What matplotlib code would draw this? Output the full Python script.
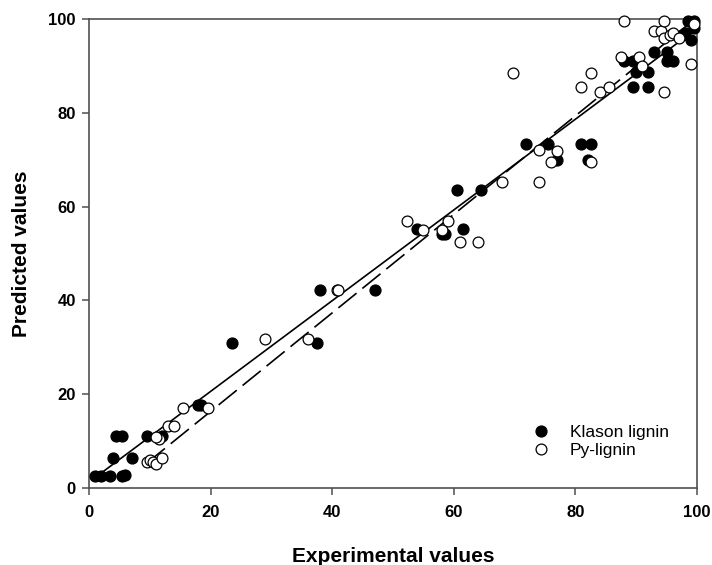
import matplotlib
matplotlib.use("Agg")
import matplotlib.pyplot as plt
import numpy as np

plt.rcParams['font.family'] = ['Liberation Sans', 'DejaVu Sans']

klason_x = [1, 2, 3.5, 5.5, 6, 4, 7, 4.5, 5.5, 9.5, 12, 18, 18.5, 23.5, 37.5, 38, 47,
            54, 58, 58.5, 61.5, 60.5, 64.5, 71.8, 75.5, 77, 81, 82.5, 82,
            88, 89.5, 89.5, 90, 92, 92, 93, 95, 95, 96, 97.5, 98, 98.5, 99.5, 99, 99.5]
klason_y = [2.5, 2.5, 2.5, 2.5, 2.8, 6.5, 6.5, 11, 11, 11, 11, 17.8, 17.8, 31, 31, 42.3, 42.3,
            55.2, 54.2, 54.2, 55.2, 63.5, 63.5, 73.3, 73.3, 70, 73.3, 73.3, 70,
            91, 91, 85.5, 88.8, 88.8, 85.5, 93, 93, 91, 91, 96.5, 97, 99.5, 99.5, 95.5, 98]

py_x = [9.5, 10, 10.5, 11, 12, 11.5, 11, 13, 14, 15.5, 19.5, 29, 36, 40.8, 41,
        52.3, 55, 58, 59, 61, 64, 68, 69.7, 74, 74, 76, 77, 82.5, 81, 82.5, 84, 85.5,
        87.5, 88, 90.5, 91, 93, 94, 94.5, 94.5, 94.5, 95.5, 96, 97, 99, 99.5]
py_y = [5.5, 6, 5.5, 5.2, 6.5, 10.5, 10.8, 13.3, 13.3, 17, 17, 31.7, 31.7, 42.2, 42.2,
        57, 55, 55, 57, 52.5, 52.5, 65.3, 88.5, 65.3, 72, 69.5, 71.8, 69.5, 85.5, 88.5, 84.5, 85.5,
        92, 99.5, 92, 90, 97.5, 97.5, 99.5, 84.5, 96, 96.5, 97, 96, 90.5, 99]

fit_klason_x = [1.5, 99.3]
fit_klason_y = [2.7, 97.3]
fit_py_x = [9.5, 98.8]
fit_py_y = [5.3, 99.1]

W, H = 712, 565
fig = plt.figure(figsize=(W/100, H/100), dpi=100)
L, R, T, B = 89, 697, 19, 488
ax = fig.add_axes([L/W, 1-B/H, (R-L)/W, (B-T)/H])

ax.plot(fit_klason_x, fit_klason_y, color='black', lw=1.2, zorder=2)
ax.plot(fit_py_x, fit_py_y, color='black', lw=1.2, dashes=(14, 4.5), zorder=2)

ax.plot(klason_x, klason_y, 'o', ms=7.8, mfc='black', mec='black', label='Klason lignin',
        zorder=3, clip_on=False)
ax.plot(py_x, py_y, 'o', ms=7.8, mfc='white', mec='black', mew=0.9, label='Py-lignin',
        zorder=3, clip_on=False)

ax.set_xlim(0, 100)
ax.set_ylim(0, 100)
ax.set_xticks([0, 20, 40, 60, 80, 100])
ax.set_yticks([0, 20, 40, 60, 80, 100])
ax.tick_params(direction='out', length=5, width=1.1, colors='#505050', labelcolor='black',
               labelsize=12)
ax.tick_params(axis='x', pad=7)
ax.tick_params(axis='y', pad=4.5)
for lab in ax.get_xticklabels() + ax.get_yticklabels():
    lab.set_fontweight('bold')
for s in ax.spines.values():
    s.set_color('#505050')
    s.set_linewidth(1.2)

xl = ax.set_xlabel('Experimental values', fontsize=15, fontweight='bold')
xl.set_verticalalignment('center')
ax.xaxis.set_label_coords(0.5, -(556-B)/(B-T))
yl = ax.set_ylabel('Predicted values', fontsize=15, fontweight='bold')
yl.set_verticalalignment('center')
ax.yaxis.set_label_coords(-(L-22)/(R-L), 0.5)

ax.legend(loc='upper left', bbox_to_anchor=(532/W, 1-425/H), bbox_transform=fig.transFigure,
          frameon=False, fontsize=12.5, handlelength=1.0, handletextpad=1.18,
          labelspacing=0.17, borderpad=0, borderaxespad=0)

fig.savefig('out.png', dpi=100)
